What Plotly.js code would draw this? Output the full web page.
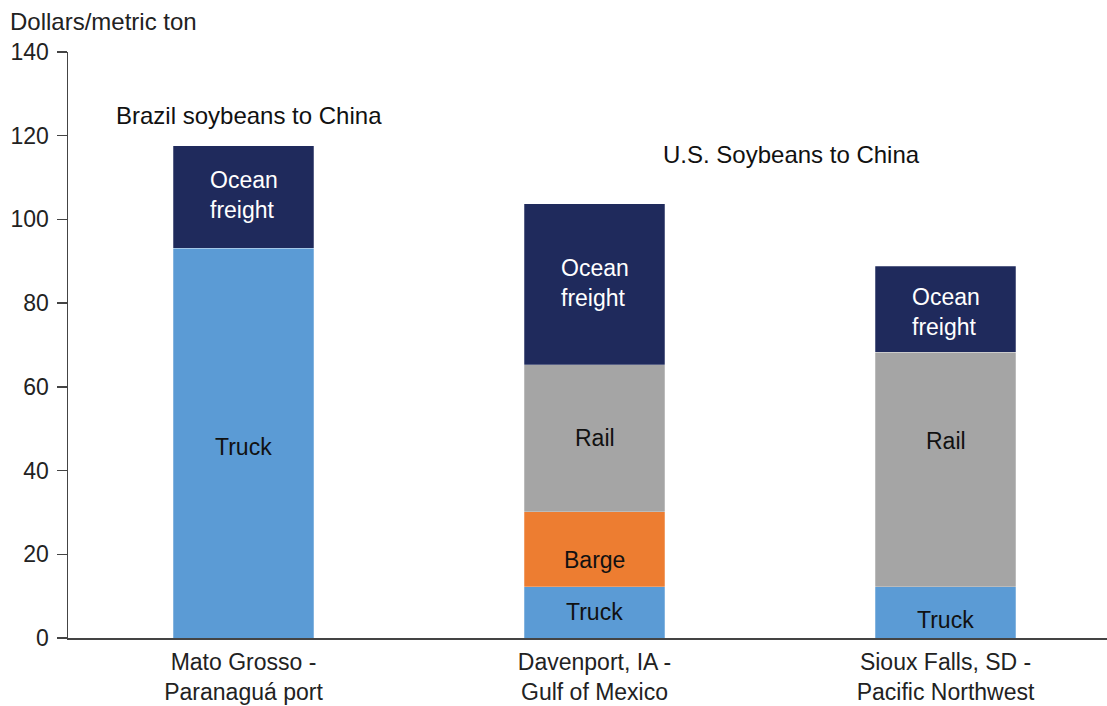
<!DOCTYPE html>
<html>
<head>
<meta charset="utf-8">
<script src="https://cdn.plot.ly/plotly-3.0.1.min.js"></script>
<style>html,body{margin:0;padding:0;background:#fff}#chart{width:1107px;height:706px}</style>
</head>
<body>
<div id="chart"></div>
<script>
// Categories (routes)
const routes = ["Mato Grosso -<br>Paranaguá port", "Davenport, IA -<br>Gulf of Mexico", "Sioux Falls, SD -<br>Pacific Northwest"];
// Cost components, dollars per metric ton
const truck = [93.1, 12.3, 12.3];
const barge = [null, 17.9, null];
const rail  = [null, 35.1, 56.0];
const ocean = [24.5, 38.4, 20.5];
const yTicks = [0, 20, 40, 60, 80, 100, 120, 140];

// Segment label texts and their vertical anchor (data units)
const segLabels = [
  {route: 0, text: "Ocean<br>freight", y: 105.8, color: "#ffffff"},
  {route: 0, text: "Truck", y: 45.6, color: "#111111"},
  {route: 1, text: "Ocean<br>freight", y: 84.8, color: "#ffffff"},
  {route: 1, text: "Rail", y: 47.8, color: "#111111"},
  {route: 1, text: "Barge", y: 18.6, color: "#111111"},
  {route: 1, text: "Truck", y: 6.2, color: "#111111"},
  {route: 2, text: "Ocean<br>freight", y: 77.9, color: "#ffffff"},
  {route: 2, text: "Rail", y: 47.1, color: "#111111"},
  {route: 2, text: "Truck", y: 4.3, color: "#111111"}
];

const FONT = "Liberation Sans, Arial, Helvetica, sans-serif";
const colors = {truck: "#5B9BD5", barge: "#ED7D31", rail: "#A5A5A5", ocean: "#1F2A5C"};

function bar(name, vals, color) {
  return {type: "bar", name: name, x: routes, y: vals, width: 0.4,
    marker: {color: color, line: {color: "rgba(255,255,255,0.5)", width: 0.5}},
    hoverinfo: "name+y"};
}

const data = [
  bar("Truck", truck, colors.truck),
  bar("Barge", barge, colors.barge),
  bar("Rail", rail, colors.rail),
  bar("Ocean freight", ocean, colors.ocean)
];

const annotations = segLabels.map(l => ({
  x: routes[l.route], y: l.y, xref: "x", yref: "y", text: l.text, showarrow: false,
  font: {family: FONT, size: 23, color: l.color}, align: "left"
}));
annotations.push({x: 0.016, y: 124.9, xref: "x", yref: "y", text: "Brazil soybeans to China",
  showarrow: false, font: {family: FONT, size: 24, color: "#111"}});
annotations.push({x: 1.56, y: 115.4, xref: "x", yref: "y", text: "U.S. Soybeans to China",
  showarrow: false, font: {family: FONT, size: 24, color: "#111"}});

const layout = {
  width: 1107, height: 706,
  margin: {l: 68, r: 0, t: 52, b: 68, pad: 0},
  paper_bgcolor: "#fff", plot_bgcolor: "#fff",
  barmode: "stack", showlegend: false,
  title: {text: "Dollars/metric ton", x: 0.009, xanchor: "left", xref: "container",
    y: 0.970, yanchor: "middle", yref: "container",
    font: {family: FONT, size: 24, color: "#222"}},
  xaxis: {type: "category", range: [-0.5, 2.46], showgrid: false, zeroline: false,
    showline: true, linecolor: "#444", linewidth: 1.5, ticks: "",
    ticklabelstandoff: 3,
    tickfont: {family: FONT, size: 23, color: "#222"}, fixedrange: true},
  yaxis: {range: [0, 140], tickvals: yTicks, ticktext: yTicks.map(String),
    showgrid: false, zeroline: false, showline: true, linecolor: "#444", linewidth: 1.5,
    ticks: "outside", ticklen: 10, tickcolor: "#444", tickwidth: 1.5,
    ticklabelstandoff: 3,
    tickfont: {family: FONT, size: 23, color: "#222"}, fixedrange: true},
  annotations: annotations,
  font: {family: FONT}
};

Plotly.newPlot("chart", data, layout, {displayModeBar: false, staticPlot: true});
</script>
</body>
</html>
